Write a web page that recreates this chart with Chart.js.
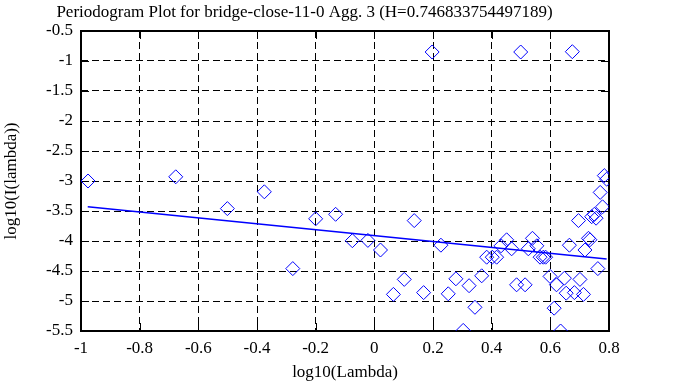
<!DOCTYPE html>
<html>
<head>
<meta charset="utf-8">
<script src="https://cdn.jsdelivr.net/npm/chart.js@4/dist/chart.umd.min.js"></script>
<style>
  body { margin: 0; background: #fff; }
  canvas { display: block; }
</style>
</head>
<body>
<canvas id="periodogram" width="688" height="387"></canvas>
<script>
// periodogram points
var logLambda = [-0.976, -0.677, -0.501, -0.375, -0.278, -0.200, -0.132, -0.075, -0.022, 0.021,
    0.065, 0.102, 0.136, 0.168, 0.197, 0.227, 0.252, 0.278, 0.303, 0.323,
    0.343, 0.366, 0.383, 0.402, 0.417, 0.432, 0.451, 0.468, 0.485, 0.499,
    0.514, 0.525, 0.539, 0.554, 0.565, 0.576, 0.584, 0.599, 0.613, 0.621,
    0.635, 0.648, 0.654, 0.665, 0.675, 0.682, 0.696, 0.701, 0.713, 0.718,
    0.730, 0.735, 0.741, 0.750, 0.756, 0.762, 0.770, 0.778, 0.784, 0.792];
var logI = [-3.00, -2.93, -3.46, -3.18, -4.46, -3.63, -3.555, -3.995, -3.99, -4.15,
    -4.89, -4.64, -3.66, -4.86, -0.85, -4.07, -4.88, -4.63, -5.49, -4.745,
    -5.105, -4.58, -4.27, -4.27, -4.27, -4.08, -3.98, -4.13, -4.73, -0.85,
    -4.73, -4.13, -3.955, -4.08, -4.27, -4.27, -4.27, -4.59, -5.12, -4.73,
    -5.5, -4.62, -4.87, -4.07, -0.845, -4.86, -3.66, -4.64, -4.89, -4.15,
    -3.955, -3.98, -3.595, -3.555, -3.62, -4.46, -3.19, -3.43, -2.91, -2.97];

// fitted line end points
var fitX = [-0.977, 0.792];
var fitY = [-3.43, -4.30];

var xTicks = [-1, -0.8, -0.6, -0.4, -0.2, 0, 0.2, 0.4, 0.6, 0.8];
var yTicks = [-0.5, -1, -1.5, -2, -2.5, -3, -3.5, -4, -4.5, -5, -5.5];

var serif = "'Liberation Serif', 'Times New Roman', serif";

var points = [];
for (let i = 0; i < logLambda.length; i++) {
    points.push({x: logLambda[i], y: logI[i]});
}
var fit = [];
for (let i = 0; i < fitX.length; i++) {
    fit.push({x: fitX[i], y: fitY[i]});
}

// box round the plot and the short ticks pointing inward
var frame = {
    id: 'frame',
    beforeDatasetsDraw: function (chart) {
        var ctx = chart.ctx, a = chart.chartArea;
        var xs = chart.scales.x, ys = chart.scales.y;
        ctx.save();
        ctx.strokeStyle = '#000';
        ctx.lineWidth = 1;
        ctx.beginPath();
        xTicks.forEach(function (v) {
            var px = Math.round(xs.getPixelForValue(v)) + 0.5;
            ctx.moveTo(px, a.top); ctx.lineTo(px, a.top + 8);
            ctx.moveTo(px, a.bottom); ctx.lineTo(px, a.bottom - 8);
        });
        yTicks.forEach(function (v) {
            var py = Math.round(ys.getPixelForValue(v)) + 0.5;
            ctx.moveTo(a.left, py); ctx.lineTo(a.left + 8, py);
            ctx.moveTo(a.right, py); ctx.lineTo(a.right - 8, py);
        });
        ctx.stroke();
        ctx.lineWidth = 2;
        ctx.strokeRect(a.left, a.top, a.right - a.left, a.bottom - a.top);
        ctx.restore();
    }
};

var chart = new Chart(document.getElementById('periodogram'), {
    type: 'scatter',
    data: {
        datasets: [{
            data: points,
            pointStyle: 'rectRot',
            pointRadius: 7,
            pointHoverRadius: 7,
            borderColor: '#0000ff',
            backgroundColor: 'rgba(0,0,0,0)',
            borderWidth: 1
        }, {
            data: fit,
            showLine: true,
            pointRadius: 0,
            borderColor: '#0000ff',
            borderWidth: 1.5,
            fill: false
        }]
    },
    options: {
        responsive: false,
        animation: false,
        devicePixelRatio: 1,
        layout: {padding: {left: 0, right: 79, top: 0, bottom: 0}},
        plugins: {
            legend: {display: false},
            tooltip: {enabled: false},
            title: {
                display: true,
                text: 'Periodogram Plot for bridge-close-11-0 Agg. 3 (H=0.746833754497189)',
                color: '#000',
                font: {family: serif, size: 17, weight: 'normal'},
                padding: {top: 2, bottom: 8.6}
            }
        },
        scales: {
            x: {
                type: 'linear',
                min: -1,
                max: 0.8,
                afterBuildTicks: function (s) {
                    s.ticks = xTicks.map(function (v) { return {value: v}; });
                },
                afterFit: function (s) { s.height = 56; },
                ticks: {
                    color: '#000',
                    font: {family: serif, size: 17},
                    padding: 7,
                    maxRotation: 0,
                    callback: function (v) { return String(v); }
                },
                grid: {color: '#000', lineWidth: 1, drawTicks: false},
                border: {display: false, dash: [7, 4]},
                title: {
                    display: true,
                    text: 'log10(Lambda)',
                    color: '#000',
                    font: {family: serif, size: 17},
                    padding: {top: 0, bottom: 4}
                }
            },
            y: {
                type: 'linear',
                min: -5.5,
                max: -0.5,
                afterBuildTicks: function (s) {
                    s.ticks = yTicks.map(function (v) { return {value: v}; });
                },
                afterFit: function (s) { s.width = 81; },
                ticks: {
                    color: '#000',
                    font: {family: serif, size: 17},
                    padding: 8,
                    callback: function (v) { return String(v); }
                },
                grid: {color: '#000', lineWidth: 1, drawTicks: false},
                border: {display: false, dash: [7, 4]},
                title: {
                    display: true,
                    text: 'log10(I(lambda))',
                    color: '#000',
                    font: {family: serif, size: 17},
                    padding: {top: 1, bottom: 0}
                }
            }
        }
    },
    plugins: [frame]
});
</script>
</body>
</html>
